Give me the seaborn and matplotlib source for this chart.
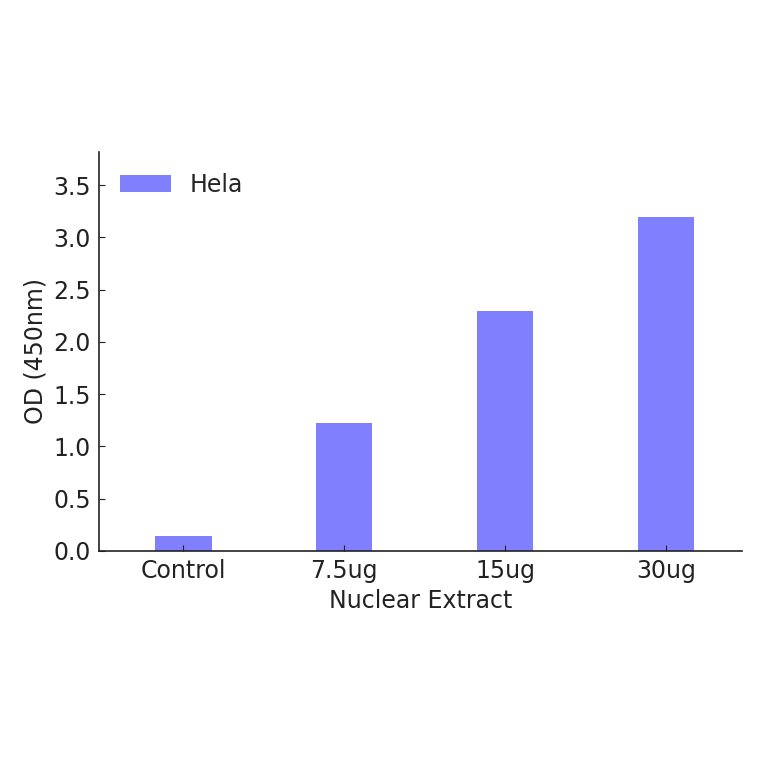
import matplotlib
matplotlib.use("Agg")
import matplotlib.pyplot as plt
import seaborn as sns
import pandas as pd

categories = ["Control", "7.5ug", "15ug", "30ug"]
od_values = [0.14, 1.22, 2.30, 3.20]
series_name = "Hela"
y_ticks = [0.0, 0.5, 1.0, 1.5, 2.0, 2.5, 3.0, 3.5]

df = pd.DataFrame({"cat": categories, "od": od_values})

sns.set_style("ticks")
plt.rcParams["font.family"] = ["DejaVu Sans"]
plt.rcParams["font.size"] = 17

fig = plt.figure(figsize=(7.64, 7.64), dpi=100)
ax = fig.add_axes([0.1296, 0.2788, 0.8410, 0.5226])

sns.barplot(data=df, x="cat", y="od", color="#8080ff", saturation=1,
            width=0.35, label=series_name, ax=ax, edgecolor="none")

ax.set_xlim(-0.525, 3.47)
ax.set_ylim(0, 3.82)
ax.set_yticks(y_ticks)
ax.set_yticklabels([f"{t:.1f}" for t in y_ticks])
ax.set_xlabel("Nuclear Extract", fontsize=17, color="#222222")
ax.set_ylabel("OD (450nm)", fontsize=17, color="#222222")
ax.tick_params(direction="in", length=4, width=0.8, labelsize=17,
               colors="#222222", pad=6)
for s in ["top", "right"]:
    ax.spines[s].set_visible(False)
for s in ["left", "bottom"]:
    ax.spines[s].set_color("#222222")
    ax.spines[s].set_linewidth(1.2)
ax.set_axisbelow(False)

ax.legend(loc="upper left", frameon=False, fontsize=17, handlelength=2.15)

fig.savefig("out.png", dpi=100, facecolor="white")
